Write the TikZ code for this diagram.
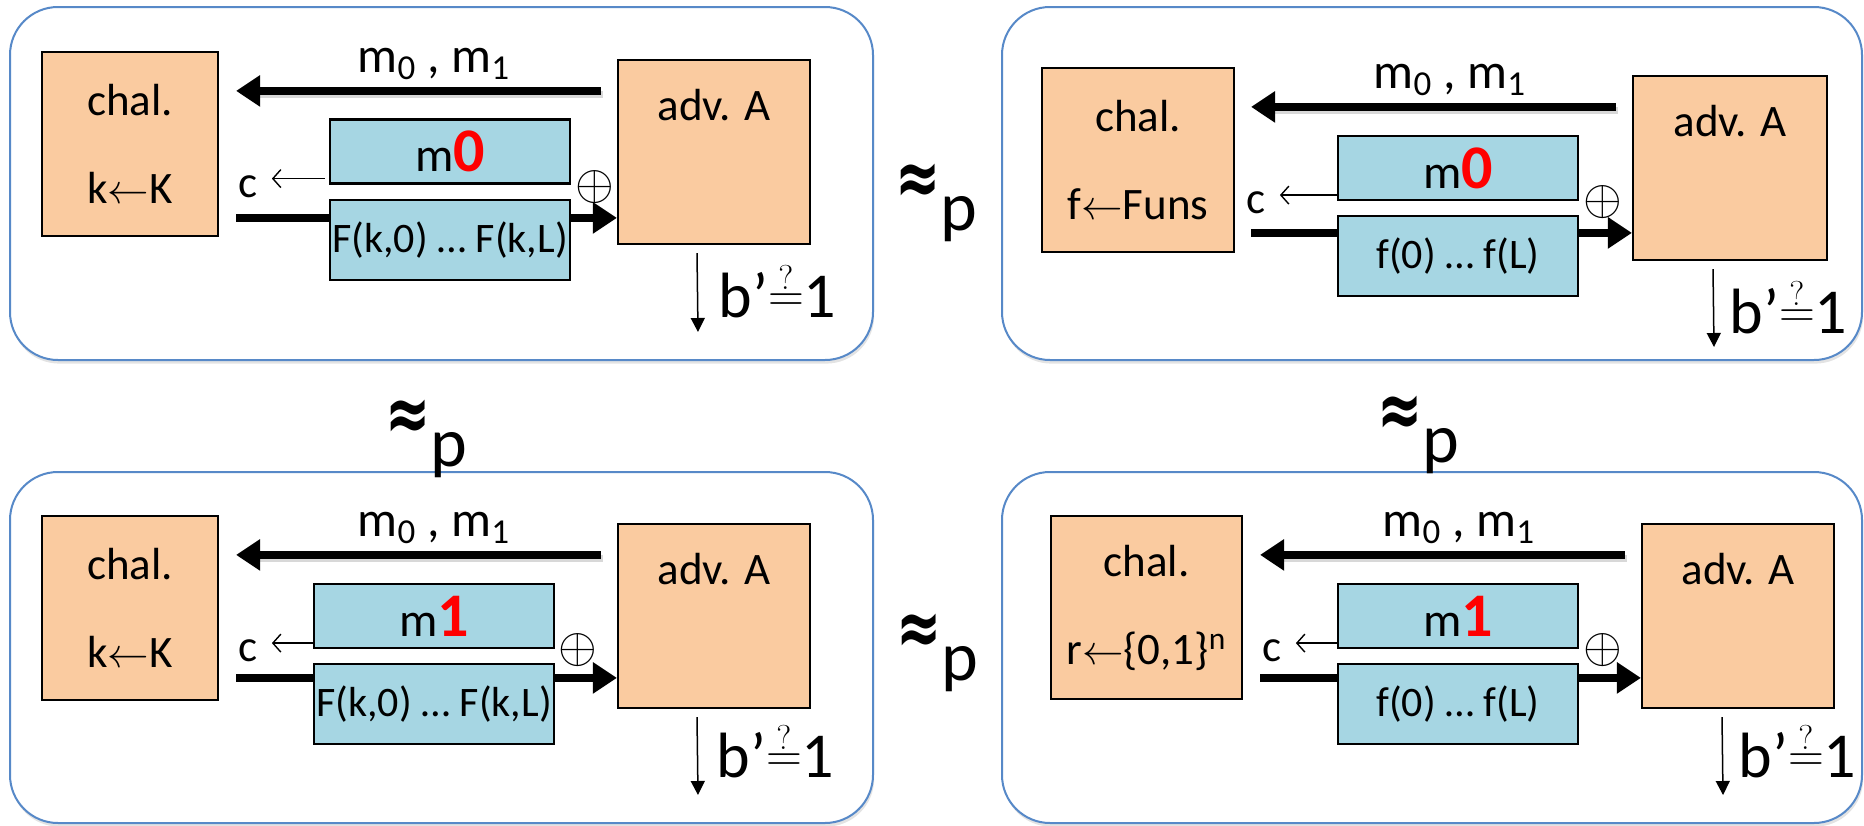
\documentclass[tikz,border=0pt]{standalone}
\usepackage{fontspec}
\setmainfont{Carlito}
\newfontfamily\symfont{DejaVu Sans}
\usetikzlibrary{arrows.meta,shadows}
\definecolor{peach}{RGB}{250,203,160}
\definecolor{lightblue}{RGB}{166,214,227}
\definecolor{panelblue}{RGB}{87,137,200}
\pgfdeclarelayer{panellayer}
\pgfdeclarelayer{edgelayer}
\pgfdeclarelayer{nodelayer}
\pgfsetlayers{panellayer,edgelayer,nodelayer,main}
\tikzstyle{panel}=[rectangle, rounded corners=24pt, draw=panelblue, line width=1pt, fill=white, inner sep=0,
  drop shadow={shadow xshift=0.6pt, shadow yshift=-1.8pt, opacity=0.22}]
\tikzstyle{chal}=[rectangle, draw=black, fill=peach, line width=1.1pt, inner sep=0, align=center, font=\fontsize{22.5}{26}\selectfont]
\tikzstyle{advbox}=[rectangle, draw=black, fill=peach, line width=1.1pt, inner sep=0]
\tikzstyle{pad}=[rectangle, draw=black, fill=lightblue, line width=1.1pt, inner sep=0, minimum width=120pt, font=\fontsize{21}{24}\selectfont]
\tikzstyle{txt}=[inner sep=0, font=\fontsize{22.5}{26}\selectfont]
\tikzstyle{bigarrow}=[line width=3.6pt, -{Triangle[length=12pt,width=15pt]}]
\tikzstyle{arrowshadow}=[line width=3.6pt, draw=black!30, opacity=0.5, transform canvas={xshift=0.8pt,yshift=-1.8pt}]
\tikzstyle{thinarrow}=[line width=0.75pt, -{Triangle[length=7pt,width=7pt]}]
\tikzstyle{backarrow}=[line width=0.7pt, -{Straight Barb[length=4pt,width=9pt]}]
\newcommand{\mpair}{{\fontsize{25}{28}\selectfont m\textsubscript{0} , m\textsubscript{1}}}
\newcommand{\msgbit}[1]{{\fontsize{24}{26}\selectfont m}{\fontsize{31}{31}\selectfont\bfseries\color{red}#1}}
\newcommand{\bguess}{{\fontsize{32}{34}\selectfont b’\raisebox{3pt}{\fontsize{24}{24}\selectfont$\stackrel{?}{=}$}1}}
\newcommand{\approxp}{{\symfont\bfseries\fontsize{27}{27}\selectfont\raisebox{13pt}{\scalebox{1}[1.45]{≈}}}{\fontsize{35}{35}\selectfont p}}

\begin{document}
\begin{tikzpicture}[x=0.5pt, y=-0.5pt]
	\useasboundingbox (0,0) rectangle (1864,825);
	\begin{pgfonlayer}{panellayer}
		\node [style=panel, minimum width=431.5pt, minimum height=176.5pt] (pan1) at (441.5,183.5) {};
		\node [style=panel, minimum width=430pt, minimum height=176.5pt] (pan2) at (1432,183.5) {};
		\node [style=panel, minimum width=431.5pt, minimum height=175.5pt] (pan3) at (441.5,647.5) {};
		\node [style=panel, minimum width=430pt, minimum height=175.5pt] (pan4) at (1432,647.5) {};
	\end{pgfonlayer}
	\begin{pgfonlayer}{nodelayer}
		% upper left: real key
		\node [style=chal, minimum width=88pt, minimum height=92pt] (chal1) at (130,144) {chal.\\[18pt]k$\leftarrow$K};
		\node [style=advbox, minimum width=96pt, minimum height=92pt] (adv1) at (714,152) {};
		\node [style=pad, minimum height=32pt] (msg1) at (450,151.5) {\msgbit{0}};
		\node [style=pad, minimum height=40pt] (pad1) at (450,240) {F(k,0) … F(k,L)};
		% upper right: random function
		\node [style=chal, minimum width=96pt, minimum height=92pt] (chal2) at (1138,160) {chal.\\[18pt]f$\leftarrow$Funs};
		\node [style=advbox, minimum width=97pt, minimum height=92pt] (adv2) at (1730,168) {};
		\node [style=pad, minimum height=32pt] (msg2) at (1458,168) {\msgbit{0}};
		\node [style=pad, minimum height=40pt] (pad2) at (1458,256) {f(0) … f(L)};
		% lower left: real key, other message
		\node [style=chal, minimum width=88pt, minimum height=92pt] (chal3) at (130,608) {chal.\\[18pt]k$\leftarrow$K};
		\node [style=advbox, minimum width=96pt, minimum height=92pt] (adv3) at (714,616) {};
		\node [style=pad, minimum height=32pt] (msg3) at (434,616) {\msgbit{1}};
		\node [style=pad, minimum height=40pt] (pad3) at (434,704) {F(k,0) … F(k,L)};
		% lower right: random string
		\node [style=chal, minimum width=95.5pt, minimum height=91.5pt] (chal4) at (1146.5,607.5) {chal.\\[18pt]r$\leftarrow$\{0,1\}\textsuperscript{n}};
		\node [style=advbox, minimum width=96pt, minimum height=92pt] (adv4) at (1738,616) {};
		\node [style=pad, minimum height=32pt] (msg4) at (1458,616) {\msgbit{1}};
		\node [style=pad, minimum height=40pt] (pad4) at (1458,704) {f(0) … f(L)};
	\end{pgfonlayer}
	% labels
	\node [style=txt] (advt1) at (714,105) {adv. A};
	\node [style=txt] (advt2) at (1730,121) {adv. A};
	\node [style=txt] (advt3) at (714,569) {adv. A};
	\node [style=txt] (advt4) at (1738,569) {adv. A};
	\node [style=txt, anchor=base] (mm1) at (434,72) {\mpair};
	\node [style=txt, anchor=base] (mm2) at (1450,88) {\mpair};
	\node [style=txt, anchor=base] (mm3) at (434,536) {\mpair};
	\node [style=txt, anchor=base] (mm4) at (1459,536) {\mpair};
	\node [style=txt, anchor=base] (cx1) at (248,197) {c};
	\node [style=txt, anchor=base] (cx2) at (1256,213) {c};
	\node [style=txt, anchor=base] (cx3) at (248,661) {c};
	\node [style=txt, anchor=base] (cx4) at (1272,661) {c};
	\node [style=txt, font=\fontsize{24}{24}\selectfont] (xor1) at (595,187) {$\oplus$};
	\node [style=txt, font=\fontsize{24}{24}\selectfont] (xor2) at (1603,202) {$\oplus$};
	\node [style=txt, font=\fontsize{24}{24}\selectfont] (xor3) at (578,650) {$\oplus$};
	\node [style=txt, font=\fontsize{24}{24}\selectfont] (xor4) at (1603,650) {$\oplus$};
	\node [style=txt, anchor=base west] (bq1) at (718,317) {\bguess};
	\node [style=txt, anchor=base west] (bq2) at (1729,333) {\bguess};
	\node [style=txt, anchor=base west] (bq3) at (716,777) {\bguess};
	\node [style=txt, anchor=base west] (bq4) at (1738,777) {\bguess};
	\node [style=txt, anchor=base west] (ap1) at (895,230) {\approxp};
	\node [style=txt, anchor=base west] (ap2) at (385,466) {\approxp};
	\node [style=txt, anchor=base west] (ap3) at (1377,462) {\approxp};
	\node [style=txt, anchor=base west] (ap4) at (896,680) {\approxp};
	% arrow ends
	\coordinate (q1) at ([yshift=-16pt]adv1.north west);
	\coordinate (q2) at ([yshift=-16pt]adv2.north west);
	\coordinate (q3) at ([yshift=-16pt]adv3.north west);
	\coordinate (q4) at ([yshift=-16pt]adv4.north west);
	\coordinate (p1) at ([yshift=-9.5pt]pad1.north west);
	\coordinate (p2) at ([yshift=-9pt]pad2.north west);
	\coordinate (p3) at ([yshift=-7.5pt]pad3.north west);
	\coordinate (p4) at ([yshift=-7.5pt]pad4.north west);
	\coordinate (s1) at ([yshift=3pt]msg1.south west);
	\coordinate (s2) at ([yshift=3pt]msg2.south west);
	\coordinate (s3) at ([yshift=3pt]msg3.south west);
	\coordinate (s4) at ([yshift=3pt]msg4.south west);
	\coordinate (d1) at ([xshift=40pt]adv1.south west);
	\coordinate (d2) at ([xshift=40.5pt]adv2.south west);
	\coordinate (d3) at ([xshift=40pt]adv3.south west);
	\coordinate (d4) at ([xshift=40.5pt]adv4.south west);
	\coordinate (e1) at (698,332);
	\coordinate (e2) at (1714,347);
	\coordinate (e3) at (698,795);
	\coordinate (e4) at (1723,795);
	\begin{pgfonlayer}{edgelayer}
		\draw [style=arrowshadow, shorten <=8pt, shorten >=14pt] (q1) to (chal1.east |- q1);
		\draw [style=arrowshadow, shorten <=8pt, shorten >=14pt] (q2) to (chal2.east |- q2);
		\draw [style=arrowshadow, shorten <=8pt, shorten >=14pt] (q3) to (chal3.east |- q3);
		\draw [style=arrowshadow, shorten <=8pt, shorten >=14pt] (q4) to (chal4.east |- q4);
		\draw [style=bigarrow, shorten <=8pt, shorten >=8.5pt] (q1) to (chal1.east |- q1);
		\draw [style=bigarrow, shorten <=8pt, shorten >=8pt] (q2) to (chal2.east |- q2);
		\draw [style=bigarrow, shorten <=8pt, shorten >=8.5pt] (q3) to (chal3.east |- q3);
		\draw [style=bigarrow, shorten <=8pt, shorten >=8.5pt] (q4) to (chal4.east |- q4);
		\draw [style=bigarrow, shorten <=8.5pt] (chal1.east |- p1) to (adv1.west |- p1);
		\draw [style=bigarrow, shorten <=8pt] (chal2.east |- p2) to (adv2.west |- p2);
		\draw [style=bigarrow, shorten <=8.5pt] (chal3.east |- p3) to (adv3.west |- p3);
		\draw [style=bigarrow, shorten <=8.5pt] (chal4.east |- p4) to (adv4.west |- p4);
		\draw [style=backarrow, shorten <=2pt, shorten >=7pt] (s1) to (cx1.east |- s1);
		\draw [style=backarrow, shorten >=7pt] (s2) to (cx2.east |- s2);
		\draw [style=backarrow, shorten >=7pt] (s3) to (cx3.east |- s3);
		\draw [style=backarrow, shorten >=7pt] (s4) to (cx4.east |- s4);
		\draw [style=thinarrow, shorten <=4pt] (d1) to (e1);
		\draw [style=thinarrow, shorten <=4pt] (d2) to (e2);
		\draw [style=thinarrow, shorten <=4pt] (d3) to (e3);
		\draw [style=thinarrow, shorten <=4pt] (d4) to (e4);
	\end{pgfonlayer}
\end{tikzpicture}
\end{document}
